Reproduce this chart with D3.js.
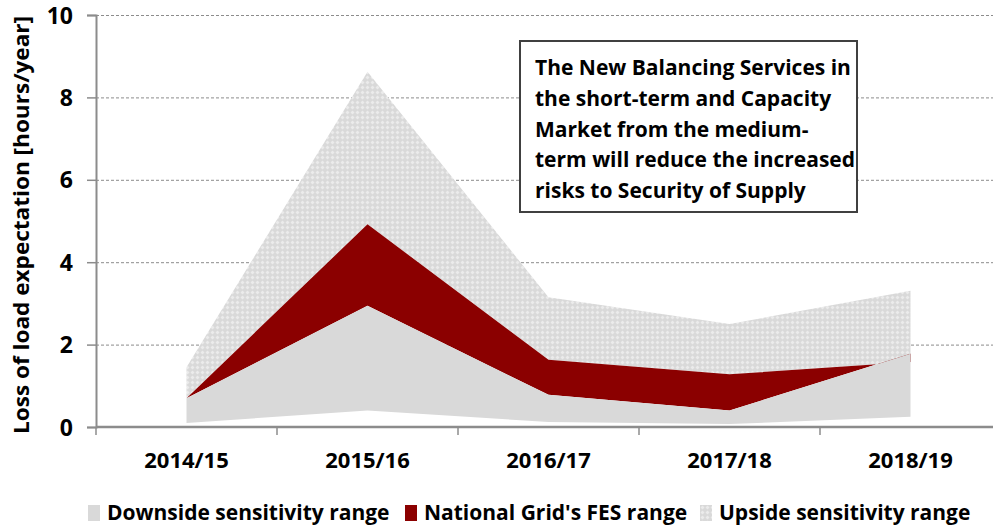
<!DOCTYPE html>
<html>
<head>
<meta charset="utf-8">
<script src="https://cdn.jsdelivr.net/npm/d3@7"></script>
<style>
  body { margin: 0; background: #fff; }
  text { font-family: "Open Sans", sans-serif; font-weight: bold; fill: #000; }
</style>
</head>
<body>
<div id="container"></div>
<script>
// data
let years = ["2014/15", "2015/16", "2016/17", "2017/18", "2018/19"];
let downsideLow = [0.10, 0.40, 0.12, 0.07, 0.25];
let downsideHigh = [0.70, 2.94, 0.78, 0.40, 1.78];
let fesHigh = [0.70, 4.92, 1.63, 1.28, 1.58];
let upsideHigh = [1.45, 8.62, 3.15, 2.50, 3.31];
let yTicks = [0, 2, 4, 6, 8, 10];
let legendNames = ["Downside sensitivity range", "National Grid's FES range", "Upside sensitivity range"];
let noteLines = [
  "The New Balancing Services in",
  "the short-term and Capacity",
  "Market from the medium-",
  "term will reduce the increased",
  "risks to Security of Supply"
];

let w = 993;
let h = 528;
let padL = 96, padR = 1001, padT = 15, padB = 427;

let viz = d3.select("#container")
  .append("svg")
    .attr("width", w)
    .attr("height", h)
;

// hatch pattern for the upside range
let defs = viz.append("defs");
let pat = defs.append("pattern")
  .attr("id", "hatch")
  .attr("patternUnits", "userSpaceOnUse")
  .attr("width", 5)
  .attr("height", 5);
pat.append("rect").attr("width", 5).attr("height", 5).attr("fill", "#d9d9d9");
pat.append("path")
  .attr("d", "M2.5,0.5 L4.5,2.5 L2.5,4.5 L0.5,2.5 Z")
  .attr("fill", "#ebebeb");

let x = d3.scaleBand().domain(years).range([padL, padR]);
let y = d3.scaleLinear().domain([0, 10]).range([padB, padT]);
let cx = function(i){ return x(years[i]) + x.bandwidth() / 2; };

// gridlines
viz.append("g")
  .attr("transform", "translate(" + padL + ",0)")
  .call(d3.axisLeft(y).tickValues(yTicks.slice(1)).tickSize(-(w - padL)).tickFormat(""))
  .call(g => g.select(".domain").remove())
  .call(g => g.selectAll("line").attr("stroke", "#8c8c8c").attr("stroke-dasharray", "3,2"))
;

// areas
let band = function(lo, hi){
  return d3.area()
    .x((d, i) => cx(i))
    .y0((d, i) => y(lo[i]))
    .y1((d, i) => y(hi[i]));
};

viz.append("path").datum(years)
  .attr("d", band(fesHigh, upsideHigh))
  .attr("fill", "url(#hatch)");

viz.append("path").datum(years)
  .attr("d", band(downsideHigh, fesHigh))
  .attr("fill", "#8b0000");

viz.append("path").datum(years)
  .attr("d", band(downsideLow, downsideHigh))
  .attr("fill", "#d9d9d9");

// y axis
viz.append("g")
  .attr("transform", "translate(" + padL + ",0)")
  .call(d3.axisLeft(y).tickValues(yTicks).tickSize(9).tickPadding(14))
  .call(g => g.select(".domain").attr("stroke", "#8c8c8c").attr("stroke-width", 2))
  .call(g => g.selectAll("line").attr("stroke", "#8c8c8c").attr("stroke-width", 1.5))
  .call(g => g.selectAll("text").attr("font-size", 23).attr("font-family", null).attr("dy", "0.35em"))
;

// x axis: labels at band centres, ticks at band edges
let xAxis = viz.append("g")
  .attr("transform", "translate(0," + padB + ")")
  .call(d3.axisBottom(x).tickSize(0).tickPadding(25))
  .call(g => g.select(".domain").remove())
  .call(g => g.selectAll("text").attr("font-size", 22).attr("font-family", null))
;
xAxis.append("line")
  .attr("x1", padL).attr("x2", w)
  .attr("stroke", "#8c8c8c").attr("stroke-width", 2.5);
xAxis.selectAll(".edge").data(years.map(d => x(d)))
  .enter().append("line")
  .attr("x1", d => d).attr("x2", d => d)
  .attr("y1", 0).attr("y2", 8)
  .attr("stroke", "#8c8c8c").attr("stroke-width", 1.5);

// y axis title
viz.append("text")
  .attr("transform", "translate(29," + ((padT + padB) / 2 + 4) + ") rotate(-90)")
  .attr("text-anchor", "middle")
  .attr("font-size", 22)
  .attr("textLength", 418)
  .attr("lengthAdjust", "spacingAndGlyphs")
  .text("Loss of load expectation [hours/year]");

// note box
viz.append("rect")
  .attr("x", 520).attr("y", 41)
  .attr("width", 337).attr("height", 171)
  .attr("fill", "#fff")
  .attr("stroke", "#404040")
  .attr("stroke-width", 2);

viz.selectAll(".note").data(noteLines)
  .enter().append("text")
  .attr("x", 535)
  .attr("y", (d, i) => 75 + i * 30.8)
  .attr("font-size", 21)
  .text(d => d);

// legend
let legendFills = ["#d9d9d9", "#8b0000", "url(#hatch)"];
let legendX = [88, 405, 700];
let lg = viz.selectAll(".leg").data(legendNames)
  .enter().append("g")
  .attr("transform", (d, i) => "translate(" + legendX[i] + ",505)");
lg.append("rect")
  .attr("width", 12).attr("height", 16)
  .attr("fill", (d, i) => legendFills[i]);
lg.append("text")
  .attr("x", 19).attr("y", 15)
  .attr("font-size", 21)
  .text(d => d);
</script>
</body>
</html>
